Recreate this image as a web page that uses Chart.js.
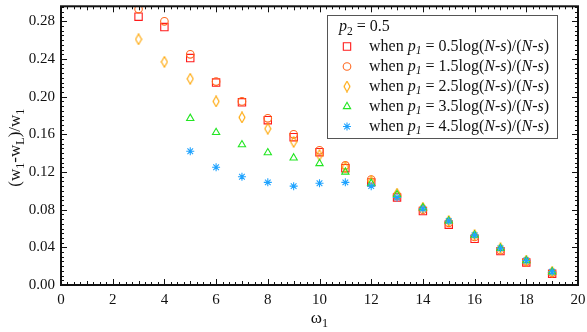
<!DOCTYPE html>
<html><head><meta charset="utf-8">
<script src="https://cdn.jsdelivr.net/npm/chart.js@4/dist/chart.umd.min.js"></script>
<style>html,body{margin:0;padding:0;background:#fff}#wrap{width:587px;height:332px;position:relative}</style>
</head><body><div id="wrap"><canvas id="c" width="587" height="332"></canvas></div>
<script>
const xs = [3,4,5,6,7,8,9,10,11,12,13,14,15,16,17,18,19];
const xs5 = [5,6,7,8,9,10,11,12,13,14,15,16,17,18,19];
const s05 = [0.285,0.274,0.241,0.215,0.194,0.175,0.157,0.141,0.124,0.109,0.093,0.0785,0.064,0.049,0.036,0.024,0.012];
const s15 = [0.293,0.280,0.245,0.216,0.195,0.177,0.160,0.143,0.127,0.112,0.095,0.080,0.066,0.051,0.037,0.025,0.013];
const s25 = [0.261,0.237,0.219,0.195,0.178,0.166,0.152,0.138,0.125,0.110,0.097,0.082,0.068,0.053,0.039,0.026,0.014];
const s35 = [0.177,0.162,0.149,0.1405,0.135,0.129,0.120,0.108,0.096,0.082,0.068,0.053,0.039,0.026,0.014];
const s45 = [0.142,0.125,0.115,0.109,0.105,0.108,0.109,0.105,0.093,0.081,0.068,0.053,0.039,0.026,0.014];
const xTicks = [0,2,4,6,8,10,12,14,16,18,20];
const yTicks = [0,0.04,0.08,0.12,0.16,0.20,0.24,0.28];
const legendItems = ['0.5','1.5','2.5','3.5','4.5'];

const colors = ['#ff1a1a','#ff6a22','#ffa500','#22e622','#1fa3ff'];

function makeDiamond(col){
  const c=document.createElement('canvas'); c.width=8; c.height=12;
  const g=c.getContext('2d'); g.strokeStyle=col; g.lineWidth=1.1;
  g.beginPath(); g.moveTo(4,0.8); g.lineTo(7,6); g.lineTo(4,11.2); g.lineTo(1,6); g.closePath(); g.stroke();
  return c;
}
const diamond = makeDiamond(colors[2]);

function pts(x,y){return x.map((v,i)=>({x:v,y:y[i]}));}
const styles = ['rect','circle',diamond,'triangle','star'];
const radii = [5.2,3.8,5,4.2,4];

const datasets = [
  {data:pts(xs,s05)},{data:pts(xs,s15)},{data:pts(xs,s25)},{data:pts(xs5,s35)},{data:pts(xs5,s45)}
].map((d,i)=>Object.assign(d,{
  label:'p'+legendItems[i], showLine:false, pointStyle:styles[i], pointRadius:radii[i],
  pointBorderColor:colors[i], pointBackgroundColor:'rgba(0,0,0,0)', pointBorderWidth:1.1,
  borderColor:colors[i], order:5-i, pointHoverRadius:radii[i]
}));

const SERIF = '"Liberation Serif","Times New Roman",serif';

function richText(ctx, segs, x, y, size, measureOnly){
  let cx=x;
  for(const s of segs){
    const fs = s.sub ? size*0.72 : size;
    ctx.font = (s.it?'italic ':'') + fs + 'px ' + SERIF;
    const dy = s.sub ? size*0.28 : 0;
    if(!measureOnly) ctx.fillText(s.t, cx, y+dy);
    cx += ctx.measureText(s.t).width;
  }
  return cx-x;
}

const framePlugin = {
  id:'frame',
  afterDraw(chart){
    const ctx=chart.ctx, a=chart.chartArea, xs_=chart.scales.x, ys_=chart.scales.y;
    ctx.save();
    ctx.strokeStyle='#111'; ctx.lineWidth=1;
    ctx.beginPath();
    for(let k=0;k<=20*4;k++){
      const v=k/4; const px=Math.round(xs_.getPixelForValue(v))+0.5;
      const len = (k%8===0)?6:((k%4===0)?4:3);
      ctx.moveTo(px,a.bottom); ctx.lineTo(px,a.bottom-len);
      ctx.moveTo(px,a.top); ctx.lineTo(px,a.top+len);
    }
    for(let k=0;k<=59;k++){
      const v=k*0.005; if(v>ys_.max) break;
      const py=Math.round(ys_.getPixelForValue(v))+0.5;
      const len=(k%8===0)?6:3;
      ctx.moveTo(a.left,py); ctx.lineTo(a.left+len,py);
      ctx.moveTo(a.right,py); ctx.lineTo(a.right-len,py);
    }
    ctx.stroke();
    ctx.lineWidth=2;
    ctx.strokeRect(a.left,a.top,a.right-a.left,a.bottom-a.top);

    // legend box
    const lx=327.5, ly=15.5, lw=230, lh=123;
    ctx.fillStyle='#fff'; ctx.fillRect(lx,ly,lw,lh);
    ctx.lineWidth=1; ctx.strokeStyle='#555'; ctx.strokeRect(lx,ly,lw,lh);
    ctx.fillStyle='#111'; ctx.textBaseline='middle'; ctx.textAlign='left';
    const fs=16;
    richText(ctx,[{t:'p',it:1},{t:'2',sub:1},{t:' = 0.5'}],339,27,fs);
    for(let i=0;i<5;i++){
      const yy=46.5+i*20;
      ctx.save(); ctx.fillStyle='rgba(0,0,0,0)'; ctx.strokeStyle=colors[i]; ctx.lineWidth=1.1;
      if(styles[i]===diamond){ ctx.drawImage(diamond,347-4,yy-6); }
      else { Chart.helpers.drawPoint(ctx,{pointStyle:styles[i],radius:radii[i],rotation:0,borderWidth:1.1},347,yy); }
      ctx.restore();
      ctx.fillStyle='#111';
      richText(ctx,[{t:'when '},{t:'p',it:1},{t:'1',it:1,sub:1},{t:' = '+legendItems[i]+'log('},{t:'N',it:1},{t:'-'},{t:'s',it:1},{t:')/('},{t:'N',it:1},{t:'-'},{t:'s',it:1},{t:')'}],369,yy,fs);
    }
    // axis titles
    ctx.fillStyle='#111';
    ctx.textBaseline='middle';
    const xsegs=[{t:'ω'},{t:'1',sub:1}];
    const xw=richText(ctx,xsegs,0,0,17,true);
    richText(ctx,xsegs,(a.left+a.right)/2-xw/2,319,17);
    ctx.save();
    ctx.translate(16,(a.top+a.bottom)/2+2);
    ctx.rotate(-Math.PI/2);
    const segs=[{t:'(w'},{t:'1',sub:1},{t:'-w'},{t:'L',sub:1},{t:')/w'},{t:'1',sub:1}];
    const w=richText(ctx,segs,0,0,17,true);
    richText(ctx,segs,-w/2,0,17);
    ctx.restore();
    ctx.restore();
  }
};

new Chart(document.getElementById('c'),{
  type:'scatter',
  data:{datasets},
  options:{
    responsive:false, animation:false, devicePixelRatio:1,
    layout:{padding:{left:0,right:9,top:4,bottom:0}},
    plugins:{legend:{display:false},tooltip:{enabled:false}},
    scales:{
      x:{type:'linear',min:0,max:20,
        afterFit(s){s.height=47;s.paddingLeft=0;s.paddingRight=0;},
        afterBuildTicks(s){s.ticks=xTicks.map(v=>({value:v}));},
        grid:{display:false,drawTicks:false}, border:{display:false},
        ticks:{autoSkip:false,maxRotation:0,padding:6,color:'#111',font:{family:SERIF,size:15},callback:v=>String(v)}},
      y:{type:'linear',min:0,max:0.296,
        afterFit(s){s.width=61;s.paddingTop=0;s.paddingBottom=0;},
        afterBuildTicks(s){s.ticks=yTicks.map(v=>({value:v}));},
        grid:{display:false,drawTicks:false}, border:{display:false},
        ticks:{autoSkip:false,padding:6,color:'#111',font:{family:SERIF,size:15},callback:v=>v.toFixed(2)}}
    }
  },
  plugins:[framePlugin]
});
</script></body></html>
